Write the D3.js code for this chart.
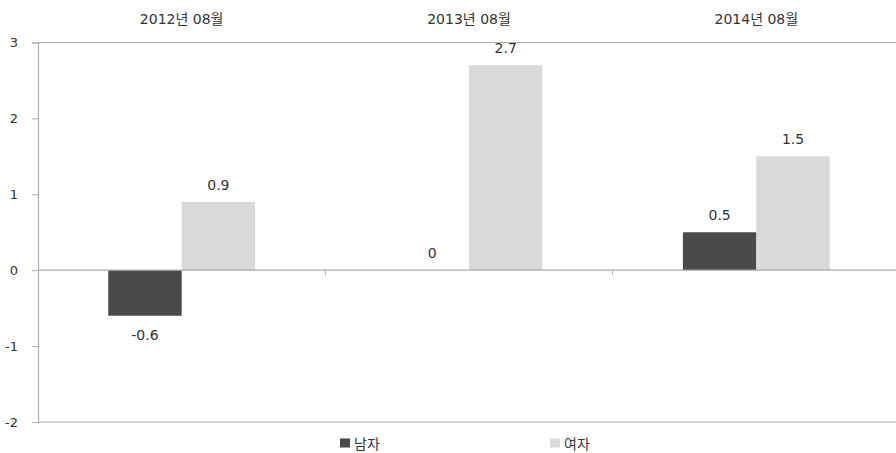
<!DOCTYPE html>
<html><head><meta charset="utf-8">
<script src="https://cdn.jsdelivr.net/npm/d3@7"></script>
<style>body{margin:0;background:#fff}svg{display:block}text{font-family:"DejaVu Sans","Noto Sans CJK KR",sans-serif;fill:#333}</style>
</head><body>
<script>
const categories = ["2012년 08월", "2013년 08월", "2014년 08월"];
const seriesNames = ["남자", "여자"];
const male = [-0.6, 0, 0.5];
const female = [0.9, 2.7, 1.5];
const yTicks = [-2, -1, 0, 1, 2, 3];
const colors = ["#4a4a4a", "#d9d9d9"];

const W = 896, H = 453;
const FF = '"DejaVu Sans","Noto Sans CJK KR",sans-serif';
const svg = d3.select("body").append("svg").attr("width", W).attr("height", H);
const x0 = d3.scaleBand().domain(categories).range([38, 900]).paddingInner(0).paddingOuter(0);
const x1 = d3.scaleBand().domain(seriesNames).range([0, x0.bandwidth()]).paddingInner(0).paddingOuter(0.956);
const y = d3.scaleLinear().domain([-2, 3]).range([422, 42.5]);
const axisCol = "#ababab";

[3, -2].forEach(v => svg.append("line").attr("x1", 38).attr("x2", W).attr("y1", y(v)).attr("y2", y(v)).attr("stroke", axisCol).attr("stroke-width", 1.2));

const ya = svg.append("g").attr("transform", "translate(38,0)").call(d3.axisLeft(y).tickValues(yTicks).tickSize(6).tickPadding(14).tickFormat(d => String(d)));
ya.select(".domain").attr("stroke", axisCol).attr("stroke-width", 1.2);
ya.selectAll(".tick line").attr("stroke", axisCol);
ya.selectAll(".tick text").attr("font-size", 13).style("fill", "#333").attr("font-family", FF);

const data = categories.map((c, i) => ({c, vals: [male[i], female[i]]}));
const g = svg.append("g");
data.forEach(d => {
  d.vals.forEach((v, j) => {
    const xx = x0(d.c) + x1(seriesNames[j]);
    if (v !== 0) {
      g.append("rect").attr("x", xx).attr("width", x1.bandwidth())
        .attr("y", y(Math.max(0, v))).attr("height", Math.abs(y(v) - y(0))).attr("fill", colors[j]);
    }
    const ty = v >= 0 ? y(v) - 12 : y(v) + 24.5;
    g.append("text").attr("x", xx + x1.bandwidth() / 2).attr("y", ty)
      .attr("text-anchor", "middle").attr("font-size", 14).text(String(v));
  });
});

svg.append("line").attr("x1", 38).attr("x2", W).attr("y1", y(0)).attr("y2", y(0)).attr("stroke", axisCol).attr("stroke-width", 1.2);
categories.slice(1).forEach(c => svg.append("line").attr("x1", x0(c)).attr("x2", x0(c)).attr("y1", y(0)).attr("y2", y(0) + 5).attr("stroke", axisCol));

categories.forEach(c => svg.append("text").attr("x", x0(c) + x0.bandwidth() / 2).attr("y", 23.5).attr("text-anchor", "middle").attr("font-size", 14).text(c));

const lx = [340, 550];
seriesNames.forEach((s, i) => {
  svg.append("rect").attr("x", lx[i]).attr("y", 438.5).attr("width", 10).attr("height", 9).attr("fill", colors[i]);
  svg.append("text").attr("x", lx[i] + 14).attr("y", 448.5).attr("font-size", 14).text(s);
});
</script>
</body></html>
